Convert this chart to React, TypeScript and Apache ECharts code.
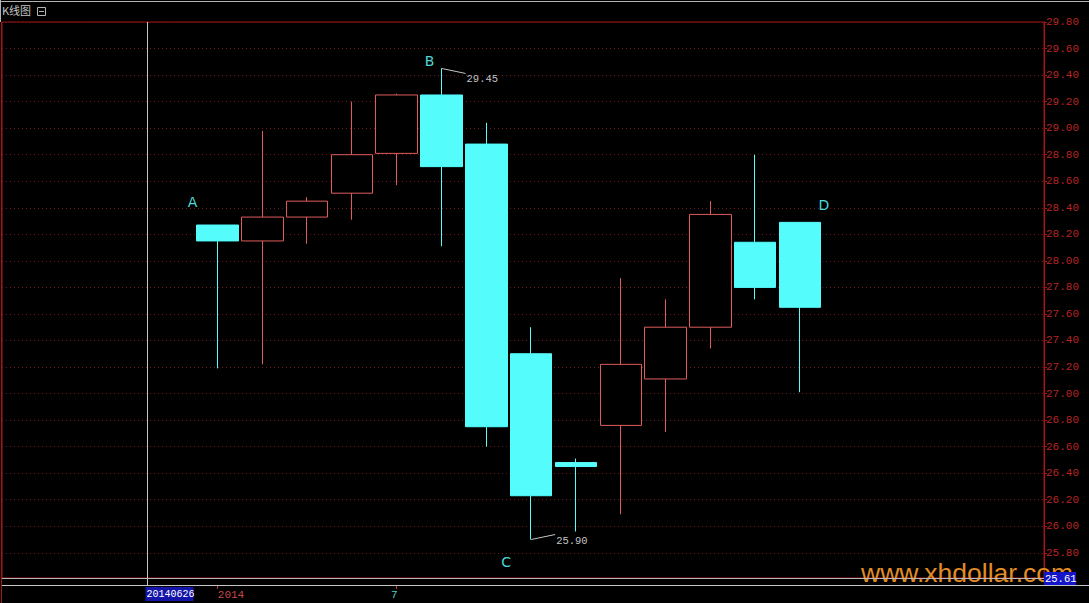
import React, { useEffect, useRef } from 'react';
import * as echarts from 'echarts';

// ---- data ----
const dates = ['20140627', '20140628', '20140629', '20140630', '20140701', '20140702', '20140703',
  '20140704', '20140705', '20140707', '20140708', '20140709', '20140710', '20140711'];
const opens = [28.27, 28.15, 28.33, 28.51, 28.81, 29.25, 28.88, 27.30, 26.48, 26.76, 27.11, 27.50, 28.14, 28.29];
const closes = [28.15, 28.33, 28.45, 28.80, 29.25, 28.71, 26.75, 26.23, 26.45, 27.22, 27.50, 28.35, 27.80, 27.65];
const lows = [27.19, 27.22, 28.13, 28.31, 28.57, 28.11, 26.60, 25.90, 25.96, 26.09, 26.71, 27.34, 27.71, 27.01];
const highs = [28.27, 28.98, 28.48, 29.20, 29.26, 29.45, 29.04, 27.50, 26.51, 27.87, 27.71, 28.45, 28.80, 28.29];
const yTicks = [25.8, 26.0, 26.2, 26.4, 26.6, 26.8, 27.0, 27.2, 27.4, 27.6, 27.8, 28.0, 28.2, 28.4, 28.6, 28.8, 29.0, 29.2, 29.4, 29.6, 29.8];
const yMin = 25.61;
const yMax = 29.8;
const markers = [
  { label: 'A', index: 0, anchor: 'high' },
  { label: 'B', index: 5, anchor: 'high' },
  { label: 'C', index: 7, anchor: 'low' },
  { label: 'D', index: 13, anchor: 'high' },
];
const cursorIndex = -1.57;
const cursorDate = '20140626';
const cursorPrice = 25.61;
const title = 'K线图';
const watermark = 'www.xhdollar.com';

// ---- styles ----
const markerOffsets: Record<string, number[]> = { A: [-25, -23], B: [-12, -7], C: [-25, 22], D: [24, -17] };
const RED_AXIS = '#a81414';
const UP = '#e05c5c';
const DOWN = '#54fcfc';
const GRAY = '#c4c4c4';
const MONO = '"Liberation Mono", "DejaVu Sans Mono", monospace';

// x-axis labels: year on the first bar, month number where the month changes
const xLabelIdx: number[] = [];
const xLabelText: Record<number, string> = {};
dates.forEach((d, i) => {
  if (i === 0) { xLabelIdx.push(i); xLabelText[i] = '{y|' + d.slice(0, 4) + '}'; }
  else if (d.slice(4, 6) !== dates[i - 1].slice(4, 6)) { xLabelIdx.push(i); xLabelText[i] = '{m|' + String(Number(d.slice(4, 6))) + '}'; }
});

export default function App() {
  const ref = useRef<HTMLDivElement>(null);
  useEffect(() => {
    if (!ref.current) return;
    const chart = echarts.init(ref.current, undefined, { renderer: 'svg' });
    const data = opens.map((o, i) => [i, o, closes[i], lows[i], highs[i]]);
    chart.setOption({
      animation: false,
      backgroundColor: '#000',
      grid: { left: 2, right: 45, top: 22, bottom: 25, show: true, borderColor: RED_AXIS, borderWidth: 1, backgroundColor: 'transparent' },
      xAxis: {
        type: 'value', min: -4.809, max: 18.445, offset: 7,
        axisLine: { show: false, onZero: false },
        axisTick: { show: true, customValues: xLabelIdx, length: 4, lineStyle: { color: '#c03a3a' } },
        axisLabel: {
          customValues: xLabelIdx, margin: 4, align: 'center',
          formatter: (v: number) => xLabelText[Math.round(v)] || '',
          rich: {
            y: { color: '#c84848', fontFamily: MONO, fontSize: 11, padding: [0, 0, 0, 27] },
            m: { color: '#4fd0d0', fontFamily: MONO, fontSize: 11, padding: [0, 5, 0, 0] },
          },
        },
        splitLine: { show: false },
      },
      yAxis: {
        type: 'value', position: 'right', min: yMin, max: yMax,
        axisLine: { show: true, onZero: false, lineStyle: { color: RED_AXIS } },
        axisTick: { show: true, customValues: yTicks, length: 3, lineStyle: { color: RED_AXIS } },
        axisLabel: { customValues: yTicks, formatter: (v: number) => v.toFixed(2), color: '#b82424', fontFamily: MONO, fontSize: 11, margin: 2 },
        splitLine: { show: true, lineStyle: { color: '#701818', type: [1, 3], width: 1 } },
      },
      series: [{
        type: 'candlestick',
        data,
        barWidth: 42,
        itemStyle: { color: '#000', color0: DOWN, borderColor: UP, borderColor0: DOWN, borderWidth: 1 },
        markPoint: {
          symbol: 'circle', symbolSize: 1, itemStyle: { color: 'transparent' },
          label: { show: true, color: '#4fd8d8', fontSize: 14, fontFamily: '"DejaVu Sans", sans-serif' },
          data: markers.map((m) => ({
            coord: [m.index, m.anchor === 'high' ? highs[m.index] : lows[m.index]],
            value: m.label,
            label: { formatter: m.label, offset: markerOffsets[m.label] },
          })),
        },
      }],
    });

    // computed overlay: crosshair, high/low leaders, frame chrome
    const maxIdx = highs.indexOf(Math.max(...highs));
    const minIdx = lows.indexOf(Math.min(...lows));
    const pMax = chart.convertToPixel({ gridIndex: 0 }, [maxIdx, highs[maxIdx]]) as number[];
    const pMin = chart.convertToPixel({ gridIndex: 0 }, [minIdx, lows[minIdx]]) as number[];
    const pCur = chart.convertToPixel({ gridIndex: 0 }, [cursorIndex, cursorPrice]) as number[];
    const cx = Math.round(pCur[0]) + 0.5;
    const cy = Math.round(pCur[1]) + 0.5;

    chart.setOption({
      graphic: [
        { type: 'text', left: 861, top: 559, z: 1, style: { text: watermark, fill: '#e38c24', font: '26.5px "Liberation Sans", Arial, sans-serif' } },
        { type: 'line', z: 50, shape: { x1: 0, y1: 1.5, x2: 1089, y2: 1.5 }, style: { stroke: '#b4b4b4', lineWidth: 1 } },
        { type: 'line', z: 50, shape: { x1: 0.5, y1: 0, x2: 0.5, y2: 22 }, style: { stroke: '#b4b4b4', lineWidth: 1 } },
        { type: 'line', z: 50, shape: { x1: 1.5, y1: 22, x2: 1.5, y2: 603 }, style: { stroke: RED_AXIS, lineWidth: 1 } },
        { type: 'text', left: 2, top: 4, z: 50, style: { text: title, fill: GRAY, font: '11px "Noto Sans CJK SC", sans-serif' } },
        { type: 'rect', z: 50, shape: { x: 37.5, y: 7.5, width: 8, height: 8 }, style: { stroke: '#b4b4b4', fill: 'none', lineWidth: 1 } },
        { type: 'line', z: 50, shape: { x1: 39, y1: 11.5, x2: 44, y2: 11.5 }, style: { stroke: '#b4b4b4', lineWidth: 1 } },
        // x axis line full width
        { type: 'line', z: 50, shape: { x1: 2, y1: 585.5, x2: 1089, y2: 585.5 }, style: { stroke: GRAY, lineWidth: 1 } },
        // crosshair
        { type: 'line', z: 60, shape: { x1: cx, y1: 22, x2: cx, y2: 586 }, style: { stroke: GRAY, lineWidth: 1 } },
        { type: 'line', z: 60, shape: { x1: 2, y1: cy, x2: 1044, y2: cy }, style: { stroke: '#b8b8b8', lineWidth: 1 } },
        { type: 'rect', z: 61, shape: { x: cx - 2, y: 587, width: 48, height: 14 }, style: { fill: '#1414a8' } },
        { type: 'text', z: 62, x: cx - 1, y: 594, style: { text: cursorDate, fill: '#ffffff', font: '10px ' + MONO, verticalAlign: 'middle', align: 'left' } },
        { type: 'rect', z: 61, shape: { x: 1044, y: cy - 6.5, width: 32, height: 13 }, style: { fill: '#1414c8' } },
        { type: 'text', z: 62, x: 1045, y: cy, style: { text: cursorPrice.toFixed(2), fill: '#ffffff', font: '10.5px ' + MONO, verticalAlign: 'middle', align: 'left' } },
        // high / low leaders
        { type: 'polyline', z: 40, shape: { points: [[pMax[0], pMax[1]], [pMax[0] + 24, pMax[1] + 5]] }, style: { stroke: GRAY, fill: 'none', lineWidth: 1 } },
        { type: 'text', z: 40, x: pMax[0] + 25, y: pMax[1] + 11, style: { text: highs[maxIdx].toFixed(2), fill: GRAY, font: '10.5px ' + MONO, verticalAlign: 'middle', align: 'left' } },
        { type: 'polyline', z: 40, shape: { points: [[pMin[0], pMin[1]], [pMin[0] + 24, pMin[1] - 5]] }, style: { stroke: GRAY, fill: 'none', lineWidth: 1 } },
        { type: 'text', z: 40, x: pMin[0] + 25, y: pMin[1] + 1, style: { text: lows[minIdx].toFixed(2), fill: GRAY, font: '10.5px ' + MONO, verticalAlign: 'middle', align: 'left' } },
      ],
    });
    return () => chart.dispose();
  }, []);
  return <div ref={ref} style={{ position: 'fixed', left: 0, top: 0, width: 1089, height: 603, background: '#000' }} />;
}
